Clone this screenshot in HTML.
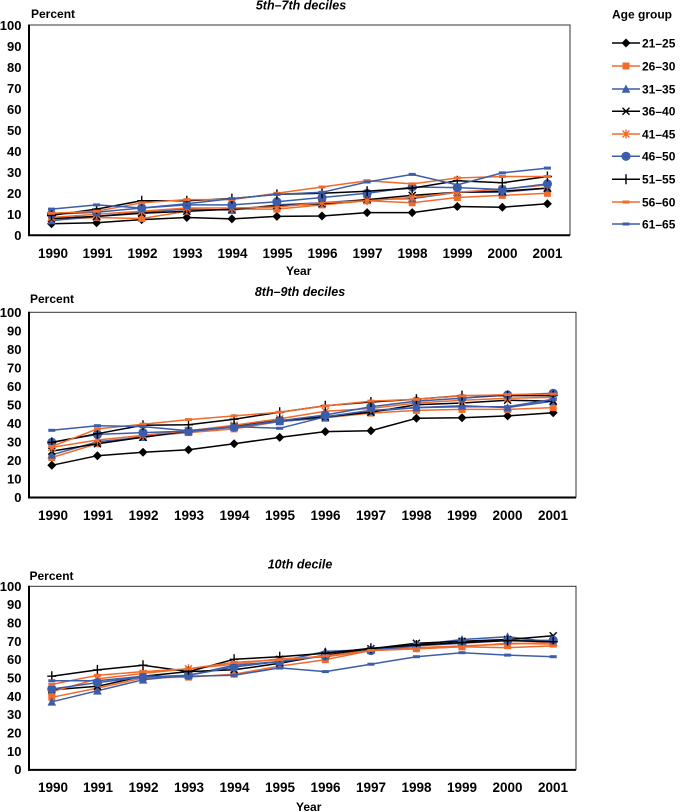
<!DOCTYPE html>
<html>
<head>
<meta charset="utf-8">
<style>
html,body{margin:0;padding:0;background:#fff;}
svg{display:block;}
text{font-family:"Liberation Sans",Arial,sans-serif;font-weight:bold;fill:#000;}
.yt{font-size:13px;text-anchor:end;}
.xt{font-size:13.5px;text-anchor:middle;}
.lab{font-size:12px;}
.ttl{font-size:12.5px;font-style:italic;text-anchor:middle;}
.lg{font-size:12px;}
.k{stroke:#000;}
.o{stroke:#F26B2B;}
.b{stroke:#3C5DAA;}
polyline{fill:none;stroke-width:1.5;stroke-linejoin:round;}
.s1{marker-start:url(#mDia);marker-mid:url(#mDia);marker-end:url(#mDia);}
.s2{marker-start:url(#mSq);marker-mid:url(#mSq);marker-end:url(#mSq);}
.s3{marker-start:url(#mTri);marker-mid:url(#mTri);marker-end:url(#mTri);}
.s4{marker-start:url(#mX);marker-mid:url(#mX);marker-end:url(#mX);}
.s5{marker-start:url(#mAst);marker-mid:url(#mAst);marker-end:url(#mAst);}
.s6{marker-start:url(#mCir);marker-mid:url(#mCir);marker-end:url(#mCir);}
.s7{marker-start:url(#mPl);marker-mid:url(#mPl);marker-end:url(#mPl);}
.s8{marker-start:url(#mDo);marker-mid:url(#mDo);marker-end:url(#mDo);}
.s9{marker-start:url(#mDb);marker-mid:url(#mDb);marker-end:url(#mDb);}
</style>
</head>
<body>
<svg width="686" height="812" viewBox="0 0 686 812" xmlns="http://www.w3.org/2000/svg">
<defs>
<marker id="mDia" markerUnits="userSpaceOnUse" markerWidth="10" markerHeight="10" refX="5" refY="5" overflow="visible"><path d="M5 0.5L9.5 5L5 9.5L0.5 5Z" fill="#000"/></marker>
<marker id="mSq" markerUnits="userSpaceOnUse" markerWidth="10" markerHeight="10" refX="5" refY="5" overflow="visible"><rect x="1.5" y="1.5" width="7" height="7" fill="#F26B2B"/></marker>
<marker id="mTri" markerUnits="userSpaceOnUse" markerWidth="10" markerHeight="10" refX="5" refY="5" overflow="visible"><path d="M5 0.5L9.3 8.8L0.7 8.8Z" fill="#3C5DAA"/></marker>
<marker id="mX" markerUnits="userSpaceOnUse" markerWidth="10" markerHeight="10" refX="5" refY="5" overflow="visible"><path d="M1.5 1.5L8.5 8.5M8.5 1.5L1.5 8.5" stroke="#000" stroke-width="1.4" fill="none"/></marker>
<marker id="mAst" markerUnits="userSpaceOnUse" markerWidth="10" markerHeight="10" refX="5" refY="5" overflow="visible"><path d="M1.5 1.5L8.5 8.5M8.5 1.5L1.5 8.5M5 0.5V9.5" stroke="#F26B2B" stroke-width="1.4" fill="none"/></marker>
<marker id="mCir" markerUnits="userSpaceOnUse" markerWidth="10" markerHeight="10" refX="5" refY="5" overflow="visible"><circle cx="5" cy="5" r="4.6" fill="#3C5DAA"/></marker>
<marker id="mPl" markerUnits="userSpaceOnUse" markerWidth="10" markerHeight="10" refX="5" refY="5" overflow="visible"><path d="M5 0V10M0.5 5H9.5" stroke="#000" stroke-width="1.4" fill="none"/></marker>
<marker id="mDo" markerUnits="userSpaceOnUse" markerWidth="10" markerHeight="10" refX="5" refY="5" overflow="visible"><rect x="1.5" y="3.5" width="7" height="3" fill="#F26B2B"/></marker>
<marker id="mDb" markerUnits="userSpaceOnUse" markerWidth="10" markerHeight="10" refX="5" refY="5" overflow="visible"><rect x="1.5" y="3.5" width="7" height="3" fill="#3C5DAA"/></marker>
</defs>

<!-- ============ TOP CHART ============ -->
<text class="ttl" x="301" y="9.5">5th–7th deciles</text>
<text class="lab" x="31" y="18">Percent</text>
<rect x="29" y="25" width="541" height="210" fill="none" stroke="#333" stroke-width="1"/>
<line x1="29" y1="24.5" x2="29" y2="236" stroke="#000" stroke-width="2"/>
<line x1="28" y1="235.3" x2="570" y2="235.3" stroke="#000" stroke-width="2"/>
<g>
<text class="yt" x="21.5" y="29.8">100</text>
<text class="yt" x="21.5" y="50.8">90</text>
<text class="yt" x="21.5" y="71.8">80</text>
<text class="yt" x="21.5" y="92.8">70</text>
<text class="yt" x="21.5" y="113.8">60</text>
<text class="yt" x="21.5" y="134.8">50</text>
<text class="yt" x="21.5" y="155.8">40</text>
<text class="yt" x="21.5" y="176.8">30</text>
<text class="yt" x="21.5" y="197.8">20</text>
<text class="yt" x="21.5" y="218.8">10</text>
<text class="yt" x="21.5" y="239.8">0</text>
</g>
<g>
<text class="xt" x="53" y="258">1990</text>
<text class="xt" x="97.5" y="258">1991</text>
<text class="xt" x="142.5" y="258">1992</text>
<text class="xt" x="187.5" y="258">1993</text>
<text class="xt" x="232.5" y="258">1994</text>
<text class="xt" x="277.5" y="258">1995</text>
<text class="xt" x="322.5" y="258">1996</text>
<text class="xt" x="367.5" y="258">1997</text>
<text class="xt" x="412.5" y="258">1998</text>
<text class="xt" x="457.5" y="258">1999</text>
<text class="xt" x="502.5" y="258">2000</text>
<text class="xt" x="547.5" y="258">2001</text>
</g>
<text class="lab" x="286" y="275">Year</text>
<g>
<polyline class="k s1" points="51.5,223.8 96.6,222.7 141.7,219.6 186.8,217.5 231.9,218.9 276.9,216.4 322,216 367.1,212.6 412.2,212.6 457.3,206.5 502.3,207.2 547.4,203.8"/>
<polyline class="o s2" points="51.5,219.6 96.6,217.5 141.7,218.5 186.8,211.2 231.9,209.1 276.9,209.1 322,204.9 367.1,200.7 412.2,202.8 457.3,197.5 502.3,195.4 547.4,193.3"/>
<polyline class="b s3" points="51.5,220.6 96.6,216.4 141.7,212.2 186.8,209.1 231.9,210.1 276.9,204.9 322,202.8 367.1,199.6 412.2,198.6 457.3,192.3 502.3,192.3 547.4,188.1"/>
<polyline class="k s4" points="51.5,218.5 96.6,216.4 141.7,213.3 186.8,211.2 231.9,209.1 276.9,205.9 322,203.8 367.1,199.6 412.2,195.4 457.3,192.3 502.3,191.2 547.4,188.1"/>
<polyline class="o s5" points="51.5,217.5 96.6,214.3 141.7,211.2 186.8,208 231.9,208 276.9,207 322,202.8 367.1,200.7 412.2,197.5 457.3,192.3 502.3,189.1 547.4,184.9"/>
<polyline class="b s6" points="51.5,214.3 96.6,212.2 141.7,208 186.8,204.9 231.9,204.9 276.9,201.7 322,197.5 367.1,193.3 412.2,187 457.3,187.6 502.3,189.5 547.4,183.9"/>
<polyline class="k s7" points="51.5,215.4 96.6,209.1 141.7,200.7 186.8,200.7 231.9,198.6 276.9,194.4 322,193.3 367.1,191.2 412.2,188.1 457.3,180.7 502.3,182.8 547.4,176.5"/>
<polyline class="o s8" points="51.5,213.3 96.6,211.2 141.7,202.8 186.8,199.6 231.9,199.6 276.9,193.3 322,187 367.1,180.7 412.2,183.9 457.3,178 502.3,176.5 547.4,176.5"/>
<polyline class="b s9" points="51.5,209.1 96.6,204.9 141.7,208 186.8,203.8 231.9,198.6 276.9,194.4 322,192.3 367.1,182 412.2,174.4 457.3,184.9 502.3,172.9 547.4,168.1"/>
</g>

<!-- ============ LEGEND ============ -->
<text class="lab" x="612" y="18.5">Age group</text>
<polyline class="k" style="marker-mid:url(#mDia)" points="612,43 626,43 640,43"/>
<text class="lg" x="642" y="47.3">21–25</text>
<polyline class="o" style="marker-mid:url(#mSq)" points="612,66 626,66 640,66"/>
<text class="lg" x="642" y="70.3">26–30</text>
<polyline class="b" style="marker-mid:url(#mTri)" points="612,89 626,89 640,89"/>
<text class="lg" x="642" y="93.3">31–35</text>
<polyline class="k" style="marker-mid:url(#mX)" points="612,111.3 626,111.3 640,111.3"/>
<text class="lg" x="642" y="115.6">36–40</text>
<polyline class="o" style="marker-mid:url(#mAst)" points="612,134 626,134 640,134"/>
<text class="lg" x="642" y="138.3">41–45</text>
<polyline class="b" style="marker-mid:url(#mCir)" points="612,156.3 626,156.3 640,156.3"/>
<text class="lg" x="642" y="160.6">46–50</text>
<polyline class="k" style="marker-mid:url(#mPl)" points="612,179.3 626,179.3 640,179.3"/>
<text class="lg" x="642" y="183.6">51–55</text>
<polyline class="o" style="marker-mid:url(#mDo)" points="612,202 626,202 640,202"/>
<text class="lg" x="642" y="206.3">56–60</text>
<polyline class="b" style="marker-mid:url(#mDb)" points="612,224 626,224 640,224"/>
<text class="lg" x="642" y="228.3">61–65</text>

<!-- ============ MIDDLE CHART ============ -->
<text class="ttl" x="300" y="296">8th–9th deciles</text>
<text class="lab" x="30" y="303">Percent</text>
<rect x="29" y="312.3" width="547" height="185" fill="none" stroke="#333" stroke-width="1"/>
<line x1="29" y1="311.8" x2="29" y2="498.3" stroke="#000" stroke-width="2"/>
<line x1="28" y1="497.5" x2="576" y2="497.5" stroke="#000" stroke-width="2"/>
<g>
<text class="yt" x="21.5" y="316.8">100</text>
<text class="yt" x="21.5" y="335.3">90</text>
<text class="yt" x="21.5" y="353.8">80</text>
<text class="yt" x="21.5" y="372.3">70</text>
<text class="yt" x="21.5" y="390.8">60</text>
<text class="yt" x="21.5" y="409.3">50</text>
<text class="yt" x="21.5" y="427.8">40</text>
<text class="yt" x="21.5" y="446.3">30</text>
<text class="yt" x="21.5" y="464.8">20</text>
<text class="yt" x="21.5" y="483.3">10</text>
<text class="yt" x="21.5" y="501.8">0</text>
</g>
<g>
<text class="xt" x="53" y="520">1990</text>
<text class="xt" x="98" y="520">1991</text>
<text class="xt" x="143.5" y="520">1992</text>
<text class="xt" x="189" y="520">1993</text>
<text class="xt" x="234.5" y="520">1994</text>
<text class="xt" x="280" y="520">1995</text>
<text class="xt" x="325.5" y="520">1996</text>
<text class="xt" x="371" y="520">1997</text>
<text class="xt" x="416.5" y="520">1998</text>
<text class="xt" x="462" y="520">1999</text>
<text class="xt" x="507.5" y="520">2000</text>
<text class="xt" x="553" y="520">2001</text>
</g>
<g>
<polyline class="k s1" points="51.8,465.3 97.4,455.7 143,452.3 188.5,449.8 234.1,443.7 279.7,437.4 325.3,431.6 370.9,430.7 416.4,418.3 462,417.8 507.6,415.9 553.2,412.8"/>
<polyline class="o s2" points="51.8,457.5 97.4,443.7 143,436.3 188.5,432.6 234.1,428.9 279.7,421.5 325.3,417.8 370.9,413.1 416.4,410.4 462,409.4 507.6,409.4 553.2,407.6"/>
<polyline class="b s3" points="51.8,454.8 97.4,441.8 143,437.2 188.5,431.6 234.1,427 279.7,421.5 325.3,417.8 370.9,411.3 416.4,407.6 462,405.8 507.6,407.6 553.2,401.1"/>
<polyline class="k s4" points="51.8,451.1 97.4,443.7 143,437.2 188.5,430.7 234.1,426.1 279.7,420.5 325.3,416.8 370.9,412.2 416.4,404.8 462,403 507.6,400.2 553.2,401.1"/>
<polyline class="o s5" points="51.8,447.4 97.4,440 143,435.3 188.5,430.7 234.1,425.2 279.7,418.7 325.3,411.3 370.9,408.5 416.4,403 462,400.2 507.6,398.3 553.2,397.4"/>
<polyline class="b s6" points="51.8,442.4 97.4,434.4 143,432.6 188.5,431.1 234.1,427 279.7,420.7 325.3,415 370.9,406.7 416.4,401.1 462,398.3 507.6,395 553.2,393.3"/>
<polyline class="k s7" points="51.8,442.4 97.4,433.7 143,425.2 188.5,424.8 234.1,419.2 279.7,412.2 325.3,405.7 370.9,402 416.4,399.3 462,395.6 507.6,395.6 553.2,395.6"/>
<polyline class="o s8" points="51.8,446.4 97.4,428.9 143,424.2 188.5,419.6 234.1,415.9 279.7,412.2 325.3,405.9 370.9,401.1 416.4,399.3 462,395.9 507.6,394.6 553.2,394.1"/>
<polyline class="b s9" points="51.8,430.3 97.4,425.7 143,426.6 188.5,430.7 234.1,426.6 279.7,428.3 325.3,416.8 370.9,410.4 416.4,407.6 462,406.7 507.6,406.7 553.2,399.3"/>
</g>

<!-- ============ BOTTOM CHART ============ -->
<text class="ttl" x="300" y="568.7">10th decile</text>
<text class="lab" x="29.5" y="580">Percent</text>
<rect x="29" y="586.3" width="547" height="183.4" fill="none" stroke="#333" stroke-width="1"/>
<line x1="29" y1="585.8" x2="29" y2="770.7" stroke="#000" stroke-width="2"/>
<line x1="28" y1="769.9" x2="576" y2="769.9" stroke="#000" stroke-width="2"/>
<g>
<text class="yt" x="21.5" y="590.8">100</text>
<text class="yt" x="21.5" y="609.1">90</text>
<text class="yt" x="21.5" y="627.5">80</text>
<text class="yt" x="21.5" y="645.8">70</text>
<text class="yt" x="21.5" y="664.2">60</text>
<text class="yt" x="21.5" y="682.5">50</text>
<text class="yt" x="21.5" y="700.8">40</text>
<text class="yt" x="21.5" y="719.2">30</text>
<text class="yt" x="21.5" y="737.5">20</text>
<text class="yt" x="21.5" y="755.9">10</text>
<text class="yt" x="21.5" y="774.2">0</text>
</g>
<g>
<text class="xt" x="53" y="792">1990</text>
<text class="xt" x="98" y="792">1991</text>
<text class="xt" x="143.5" y="792">1992</text>
<text class="xt" x="189" y="792">1993</text>
<text class="xt" x="234.5" y="792">1994</text>
<text class="xt" x="280" y="792">1995</text>
<text class="xt" x="325.5" y="792">1996</text>
<text class="xt" x="371" y="792">1997</text>
<text class="xt" x="416.5" y="792">1998</text>
<text class="xt" x="462" y="792">1999</text>
<text class="xt" x="507.5" y="792">2000</text>
<text class="xt" x="553" y="792">2001</text>
</g>
<text class="lab" x="296" y="811">Year</text>
<g>
<polyline class="o s2" points="51.8,697.3 97.4,688.1 143,678 188.5,677.1 234.1,674.3 279.7,666.1 325.3,659.7 370.9,650.5 416.4,648.7 462,646.8 507.6,643.2 553.2,644.1"/>
<polyline class="b s3" points="51.8,701.8 97.4,690.8 143,679.8 188.5,675.3 234.1,665.2 279.7,661.5 325.3,651.4 370.9,649.6 416.4,645 462,639.5 507.6,636.7 553.2,642.2"/>
<polyline class="k s4" points="51.8,689.9 97.4,686.3 143,676.2 188.5,671.6 234.1,669.8 279.7,663.3 325.3,655.1 370.9,648.7 416.4,643.2 462,641.3 507.6,639.5 553.2,635.8"/>
<polyline class="o s5" points="51.8,691.8 97.4,678.9 143,673.4 188.5,668.8 234.1,664.2 279.7,658.7 325.3,656.9 370.9,650.5 416.4,647.7 462,645.9 507.6,644.1 553.2,642.2"/>
<polyline class="b s6" points="51.8,689 97.4,682.6 143,677.1 188.5,675.3 234.1,667 279.7,661.5 325.3,656 370.9,650.5 416.4,645.9 462,643.2 507.6,640.4 553.2,640.4"/>
<polyline class="k s7" points="51.8,676.2 97.4,669.9 143,665.2 188.5,671.6 234.1,659.3 279.7,656.7 325.3,653.2 370.9,648.3 416.4,645 462,642.6 507.6,640.6 553.2,641.7"/>
<polyline class="o s8" points="51.8,684.4 97.4,675.3 143,671.6 188.5,668.8 234.1,662.4 279.7,659.7 325.3,656 370.9,650.5 416.4,648.7 462,646.8 507.6,647.7 553.2,645.9"/>
<polyline class="b s9" points="51.8,680.8 97.4,680.8 143,676.2 188.5,676.2 234.1,675.3 279.7,667.9 325.3,671.6 370.9,664.2 416.4,656.7 462,652.7 507.6,655.1 553.2,656.7"/>
</g>
</svg>
</body>
</html>
